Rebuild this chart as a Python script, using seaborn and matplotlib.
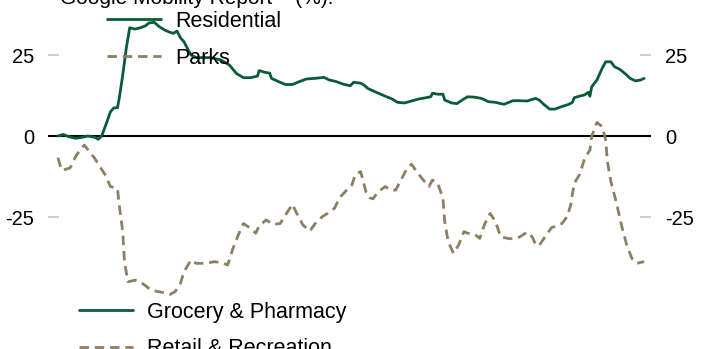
import matplotlib
matplotlib.use("Agg")
import pandas as pd
import seaborn as sns
import matplotlib.pyplot as plt
from matplotlib.lines import Line2D

# --- Datos ---
residential_day = [0, 3, 6, 10, 13, 17, 21, 23, 25, 28,
                   30, 32, 34, 35, 37, 39, 41, 44, 47, 50,
                   52, 55, 58, 61, 64, 66, 68, 70, 72, 74,
                   76, 79, 82, 87, 93, 98, 102, 106, 110, 114,
                   115, 118, 121, 122, 126, 130, 134, 138, 142, 147,
                   152, 155, 159, 163, 167, 169, 173, 175, 177, 181,
                   187, 191, 194, 198, 202, 206, 210, 213, 214, 217,
                   220, 221, 225, 228, 231, 234, 238, 242, 246, 250,
                   253, 255, 260, 264, 268, 271, 273, 275, 278, 281,
                   284, 288, 292, 294, 295, 298, 301, 303, 304, 305,
                   308, 311, 313, 316, 318, 321, 324, 327, 330, 333,
                   335]
residential = [0, 0.5, -0.2, -0.7, -0.5, 0, -0.4, -1, 0, 4.4,
               7.5, 8.7, 8.7, 11.6, 18.8, 27, 33.4, 33, 33.4, 34,
               34.9, 35.1, 33.7, 32.7, 32, 31.7, 32.4, 30.3, 29.1, 27,
               25, 24.2, 24.2, 24.2, 23.5, 21.9, 19.3, 18, 18, 18.5,
               20.2, 19.7, 19.4, 17.8, 16.8, 15.9, 15.9, 16.8, 17.6, 17.8,
               18.1, 17.3, 16.8, 16, 15.5, 16.6, 16.3, 15.7, 14.7, 13.7,
               12.3, 11.4, 10.4, 10.2, 10.8, 11.4, 11.8, 12.1, 13.2, 12.9,
               12.9, 11.1, 10.2, 10, 11.1, 12.1, 12, 11.6, 10.6, 10.4,
               10, 9.8, 10.9, 10.9, 10.8, 11.3, 11.6, 11.1, 9.6, 8.3,
               8.3, 9.1, 9.8, 10.4, 11.8, 12.3, 12.7, 13.5, 12.3, 15.2,
               17.3, 20.9, 22.9, 22.9, 21.4, 20.6, 19.3, 17.8, 17, 17.3,
               17.8]

parks_day = [0, 2, 5, 7, 10, 12, 15, 18, 21, 24,
             27, 30, 32, 34, 35, 37, 38, 40, 44, 47,
             50, 53, 57, 61, 64, 67, 70, 72, 76, 79,
             83, 85, 89, 93, 97, 100, 103, 106, 110, 113,
             115, 119, 123, 127, 130, 134, 136, 140, 144, 147,
             151, 154, 158, 161, 165, 168, 170, 173, 174, 176,
             178, 180, 183, 187, 190, 193, 195, 199, 202, 205,
             208, 212, 214, 217, 220, 221, 223, 226, 229, 232,
             234, 238, 241, 244, 247, 250, 253, 257, 261, 264,
             268, 271, 273, 275, 278, 282, 285, 288, 291, 293,
             295, 298, 301, 304, 305, 307, 308, 311, 313, 314,
             316, 319, 322, 325, 328, 331, 333, 335]
parks = [-6.7, -10.5, -10.2, -9.8, -6.4, -4.8, -2.8, -4.8, -6.9, -9.5,
         -12, -15.6, -15.9, -16.2, -21.3, -29.5, -38.8, -45, -44.5, -45,
         -46.2, -47.5, -48, -48.4, -48.9, -48, -45.5, -41.9, -38.3, -39.3,
         -39.3, -39.3, -38.8, -39, -39.8, -34.7, -30.6, -27, -28.5, -30,
         -27.7, -25.9, -27.3, -27, -24.4, -21.1, -23.4, -27.5, -29.3, -27,
         -24.9, -23.9, -22.3, -19, -16.7, -15.1, -11.8, -11, -13.1, -17.2,
         -19, -19.4, -17.2, -15.6, -16.7, -16.7, -14.6, -10.5, -8.7, -11,
         -13.1, -15.6, -13.6, -14.6, -19.2, -26.4, -32.6, -36.2, -33.6, -29.5,
         -30, -30.3, -31.6, -27, -23.9, -26.4, -31.1, -31.6, -31.8, -31.1,
         -29.7, -31.1, -33.6, -33.8, -31.4, -28.3, -27.7, -27, -24.9, -21.3,
         -14.6, -12, -6.9, -4.3, -0.2, 2.9, 4.2, 2.9, -1.2, -7.9,
         -14.1, -20.3, -27.5, -33.6, -37.8, -39.3, -39, -38.8]

y_ticks = [-25, 0, 25]
top_labels = ["Residential", "Parks"]
bottom_labels = ["Grocery & Pharmacy", "Retail & Recreation"]
title = "Google Mobility Report    (%)."

GREEN = "#0a5c36"
TAN = "#8c7f62"
TICK_COLOR = "#d3d0bf"
DASH = (0, (3.4, 2.1))

# --- Estilo ---
sns.set_style("white")
plt.rcParams['font.family'] = ['Liberation Sans', 'DejaVu Sans']
plt.rcParams['axes.unicode_minus'] = False
plt.rcParams['text.color'] = 'black'

W, H = 706, 349
fig = plt.figure(figsize=(W / 100, H / 100), dpi=100)
ax = fig.add_axes([48 / W, 0, (651 - 48) / W, 1])

df_res = pd.DataFrame({"day": residential_day, "value": residential})
df_parks = pd.DataFrame({"day": parks_day, "value": parks})

ax.axhline(0, color="black", lw=1.5, zorder=1)
sns.lineplot(data=df_res, x="day", y="value", ax=ax, color=GREEN, lw=2,
             errorbar=None, zorder=3)
sns.lineplot(data=df_parks, x="day", y="value", ax=ax, color=TAN, lw=2,
             linestyle=DASH, errorbar=None, zorder=2)

ax.set_xlim(-5.7, 338.9)
ax.set_ylim(-65.74, 41.98)
ax.set_xticks([])
ax.set_yticks(y_ticks)
ax.set_xlabel("")
ax.set_ylabel("")
ax.tick_params(axis="y", direction="in", length=8, width=1.5, color=TICK_COLOR,
               labelcolor="black", pad=10, labelsize=14.5, left=True, right=True,
               labelleft=True, labelright=True)
for s in ax.spines.values():
    s.set_visible(False)
if ax.get_legend() is not None:
    ax.get_legend().remove()

# --- Leyendas ---
h_green = Line2D([], [], color=GREEN, lw=2)
h_tan = Line2D([], [], color=TAN, lw=2, linestyle=DASH)
leg_kw = dict(loc="upper left", frameon=False, fontsize=15.5, handlelength=2.5,
              handletextpad=0.65, labelspacing=0.72, borderpad=0,
              borderaxespad=0, bbox_transform=fig.transFigure)
fig.legend([h_green, h_tan], top_labels,
           bbox_to_anchor=(107 / W, 1 - 11 / H), **leg_kw)
fig.legend([h_green, h_tan], bottom_labels,
           bbox_to_anchor=(79 / W, 1 - 302 / H), **leg_kw)

fig.text(60 / W, 1 - 4 / H, title, ha="left", va="baseline", fontsize=15)

fig.savefig("out.png", dpi=100)
